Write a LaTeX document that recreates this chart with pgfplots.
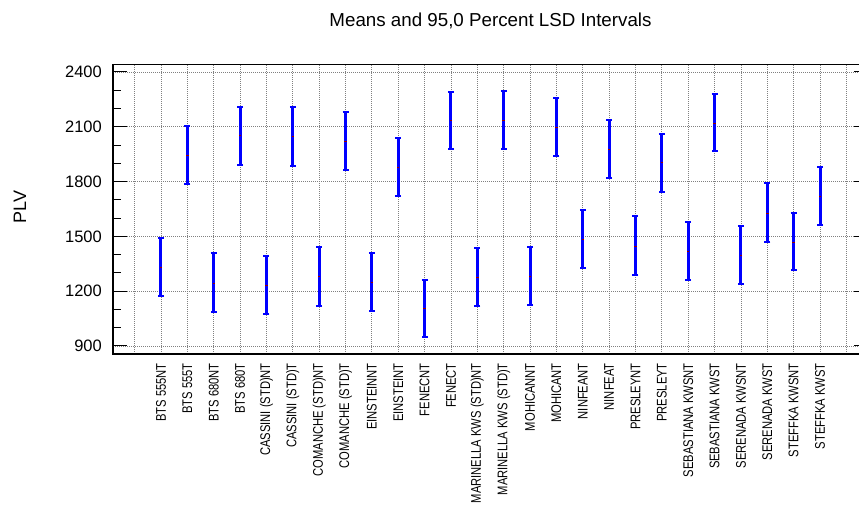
\documentclass[border=0pt]{standalone}
\usepackage{pgfplots}
\pgfplotsset{compat=1.18}
\usepackage{pgfplotstable}
\usepackage{fontspec}
\setmainfont{Liberation Sans}
\newfontfamily\narrowfont[FakeStretch=0.8]{Liberation Sans}

\pgfplotstableread{
x  y    ep   em
1  1333 158  159
2  1942 162  157
3  1245 162  159
4  2051 157  158
5  1232 163  159
6  2048 160  161
7  1280 162  159
8  2020 161  156
9  1249 158  157
10 1876 161  155
11 1104 159  156
12 2135 157  158
13 1276 162  155
14 2135 163  155
15 1283 159  157
16 2095 163  155
17 1484 159  159
18 1979 158  157
19 1447 165  156
20 1904 158  159
21 1416 163  156
22 2119 162  153
23 1396 159  156
24 1628 163  159
25 1468 162  154
26 1719 159  157
}\lsd

\begin{document}
\begin{tikzpicture}
\begin{axis}[
  at={(113pt,151pt)}, anchor=south west,
  scale only axis, width=755pt, height=289.7pt,
  xmin=-0.82, xmax=27.82,
  ymin=856, ymax=2442,
  xtick={0,...,27},
  xticklabels={,BTS 555NT,BTS 555T,BTS 680NT,BTS 680T,CASSINI (STD)NT,CASSINI (STD)T,COMANCHE (STD)NT,COMANCHE (STD)T,EINSTEINNT,EINSTEINT,FENECNT,FENECT,MARINELLA KWS (STD)NT,MARINELLA KWS (STD)T,MOHICANNT,MOHICANT,NINFEANT,NINFEAT,PRESLEYNT,PRESLEYT,SEBASTIANA KWSNT,SEBASTIANA KWST,SERENADA KWSNT,SERENADA KWST,STEFFKA KWSNT,STEFFKA KWST,},
  xticklabel style={yshift=-9pt, rotate=90, anchor=east, inner sep=0pt, font=\narrowfont\fontsize{14}{16}\selectfont},
  ytick={900,1200,...,2400},
  minor y tick num=2,
  yticklabel style={inner sep=0pt, xshift=-11pt, font=\fontsize{16.5}{18}\selectfont},
  /pgf/number format/assume math mode=true,
  /pgf/number format/set thousands separator={},
  xtick style={draw=none},
  ytick style={black, line width=1pt},
  major tick length=14pt,
  minor tick length=8pt,
  tick align=inside,
  grid=major,
  major grid style={black!50, line width=0.8pt, dash pattern=on 1pt off 1pt},
  axis line style={black, line width=1.2pt},
  title={Means and 95,0 Percent LSD Intervals},
  title style={at={(0.5,1)}, anchor=base, yshift=32pt, inner sep=0pt, font=\fontsize{18.75}{20}\selectfont},
  ylabel={PLV},
  ylabel style={at={(axis description cs:-0.1232,0.507)}, anchor=center, inner sep=0pt, font=\fontsize{18}{20}\selectfont},
]
\addplot[draw=none, mark=-, mark size=1.2pt, mark options={red!60!black, line width=0.7pt},
  error bars/.cd, y dir=both, y explicit,
  error bar style={blue, line width=3pt},
  error mark=|, error mark options={blue, line width=2pt, mark size=3pt}]
  table[x=x, y=y, y error plus=ep, y error minus=em] {\lsd};
\end{axis}
\pgfresetboundingbox
\useasboundingbox (0,0) rectangle (859pt,505pt);
\end{tikzpicture}
\end{document}
